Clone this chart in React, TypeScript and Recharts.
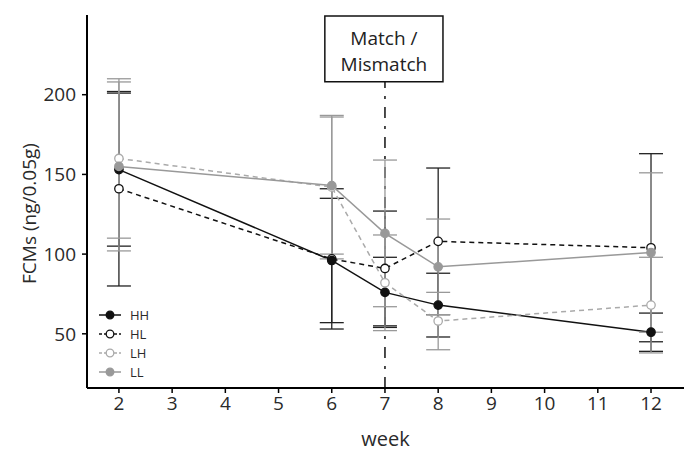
import {
  ComposedChart,
  Line,
  XAxis,
  YAxis,
  ErrorBar,
  ReferenceLine,
  ReferenceArea,
} from "recharts";

// weeks sampled
const weeks = [2, 6, 7, 8, 12];

// mean FCMs per group (ng/0.05g)
const hh = [153, 96, 76, 68, 51];
const hl = [141, 97, 91, 108, 104];
const lh = [160, 142, 82, 58, 68];
const ll = [155, 143, 113, 92, 101];

// error bar half widths
const hhErr = [48, 39, 22, 20, 12];
const hlErr = [61, 44, 36, 46, 59];
const lhErr = [50, 45, 30, 18, 30];
const llErr = [53, 43, 46, 30, 50];

const xTicks = [2, 3, 4, 5, 6, 7, 8, 9, 10, 11, 12];
const yTicks = [50, 100, 150, 200];

const FONT = "'Open Sans', sans-serif";
const TEXT = "#2a2a2a";

const data = weeks.map((w, i) => ({
  week: w,
  HH: hh[i],
  HL: hl[i],
  LH: lh[i],
  LL: ll[i],
  HHerr: hhErr[i],
  HLerr: hlErr[i],
  LHerr: lhErr[i],
  LLerr: llErr[i],
}));

// draw order: black groups first, grey ones on top
const series = [
  { key: "HL", color: "#111", barColor: "#222", dash: "5 4", filled: false },
  { key: "HH", color: "#111", barColor: "#222", dash: undefined, filled: true },
  { key: "LH", color: "#aaa", barColor: "#999", dash: "5 4", filled: false },
  { key: "LL", color: "#999", barColor: "#999", dash: undefined, filled: true },
];
const legendOrder = ["HH", "HL", "LH", "LL"];

function LegendBox() {
  return (
    <div
      style={{
        position: "absolute",
        left: 98,
        top: 305,
        fontFamily: FONT,
        fontSize: 13,
        color: TEXT,
      }}
    >
      {legendOrder.map((k) => {
        const s = series.find((x) => x.key === k)!;
        return (
          <div
            key={k}
            style={{ display: "flex", alignItems: "center", height: 19 }}
          >
            <svg width={24} height={12} style={{ marginRight: 8 }}>
              <line
                x1={1}
                y1={6}
                x2={23}
                y2={6}
                stroke={s.color}
                strokeWidth={1.5}
                strokeDasharray={s.dash ? "3 2" : undefined}
              />
              <circle
                cx={12}
                cy={6}
                r={3.8}
                fill={s.filled ? s.color : "#fff"}
                stroke={s.color}
                strokeWidth={1.3}
              />
            </svg>
            <span>{k}</span>
          </div>
        );
      })}
    </div>
  );
}

function BoxLabel(props: any) {
  const { x, y, width } = props.viewBox;
  const cx = x + width / 2;
  return (
    <g>
      <text x={cx} y={y + 29} textAnchor="middle" fontSize={19} fill="#222" fontFamily={FONT}>
        Match /
      </text>
      <text x={cx} y={y + 55} textAnchor="middle" fontSize={19} fill="#222" fontFamily={FONT}>
        Mismatch
      </text>
    </g>
  );
}

export default function App() {
  return (
    <div style={{ position: "absolute", left: 0, top: 0, background: "#fff" }}>
      <ComposedChart
        width={686}
        height={456}
        data={data}
        margin={{ top: 15, right: 2, bottom: 0, left: 0 }}
      >
        <XAxis
          type="number"
          dataKey="week"
          domain={[1.4, 12.62]}
          ticks={xTicks}
          allowDataOverflow
          height={68}
          tickSize={5}
          tickMargin={4}
          axisLine={{ stroke: "#000", strokeWidth: 2 }}
          tickLine={{ stroke: "#000", strokeWidth: 1.5 }}
          tick={{ fontSize: 19, fill: TEXT, fontFamily: FONT }}
          label={(p: any) => (
            <text
              x={p.viewBox.x + p.viewBox.width / 2}
              y={p.viewBox.y + 58}
              textAnchor="middle"
              fontSize={20}
              fill={TEXT}
              fontFamily={FONT}
            >
              week
            </text>
          )}
        />
        <YAxis
          type="number"
          domain={[16, 250]}
          ticks={yTicks}
          allowDataOverflow
          width={87}
          tickSize={5}
          tickMargin={6}
          axisLine={{ stroke: "#000", strokeWidth: 2 }}
          tickLine={{ stroke: "#000", strokeWidth: 1.5 }}
          tick={{ fontSize: 19, fill: TEXT, fontFamily: FONT }}
          label={(p: any) => {
            const lx = 36;
            const ly = p.viewBox.y + p.viewBox.height / 2 + 12;
            return (
              <text
                x={lx}
                y={ly}
                transform={`rotate(-90, ${lx}, ${ly})`}
                textAnchor="middle"
                fontSize={19}
                fill={TEXT}
                fontFamily={FONT}
              >
                FCMs (ng/0.05g)
              </text>
            );
          }}
        />
        <ReferenceLine
          segment={[
            { x: 7, y: 16 },
            { x: 7, y: 208 },
          ]}
          stroke="#111"
          strokeWidth={1.5}
          strokeDasharray="11 8 3 8"
        />
        <ReferenceArea
          x1={5.87}
          x2={8.09}
          y1={208.2}
          y2={249.4}
          fill="#fff"
          fillOpacity={1}
          stroke="#111"
          strokeWidth={1.5}
          label={(p: any) => <BoxLabel {...p} />}
        />
        {series.map((s) => (
          <Line
            key={s.key}
            dataKey={s.key}
            stroke={s.color}
            strokeWidth={1.5}
            strokeDasharray={s.dash}
            isAnimationActive={false}
            dot={{
              r: 4.2,
              fill: s.filled ? s.color : "#fff",
              stroke: s.color,
              strokeWidth: 1.3,
              strokeDasharray: "",
            }}
            activeDot={false}
          >
            <ErrorBar
              dataKey={`${s.key}err`}
              direction="y"
              width={12}
              stroke={s.barColor}
              strokeWidth={1.3}
            />
          </Line>
        ))}
      </ComposedChart>
      <LegendBox />
    </div>
  );
}
